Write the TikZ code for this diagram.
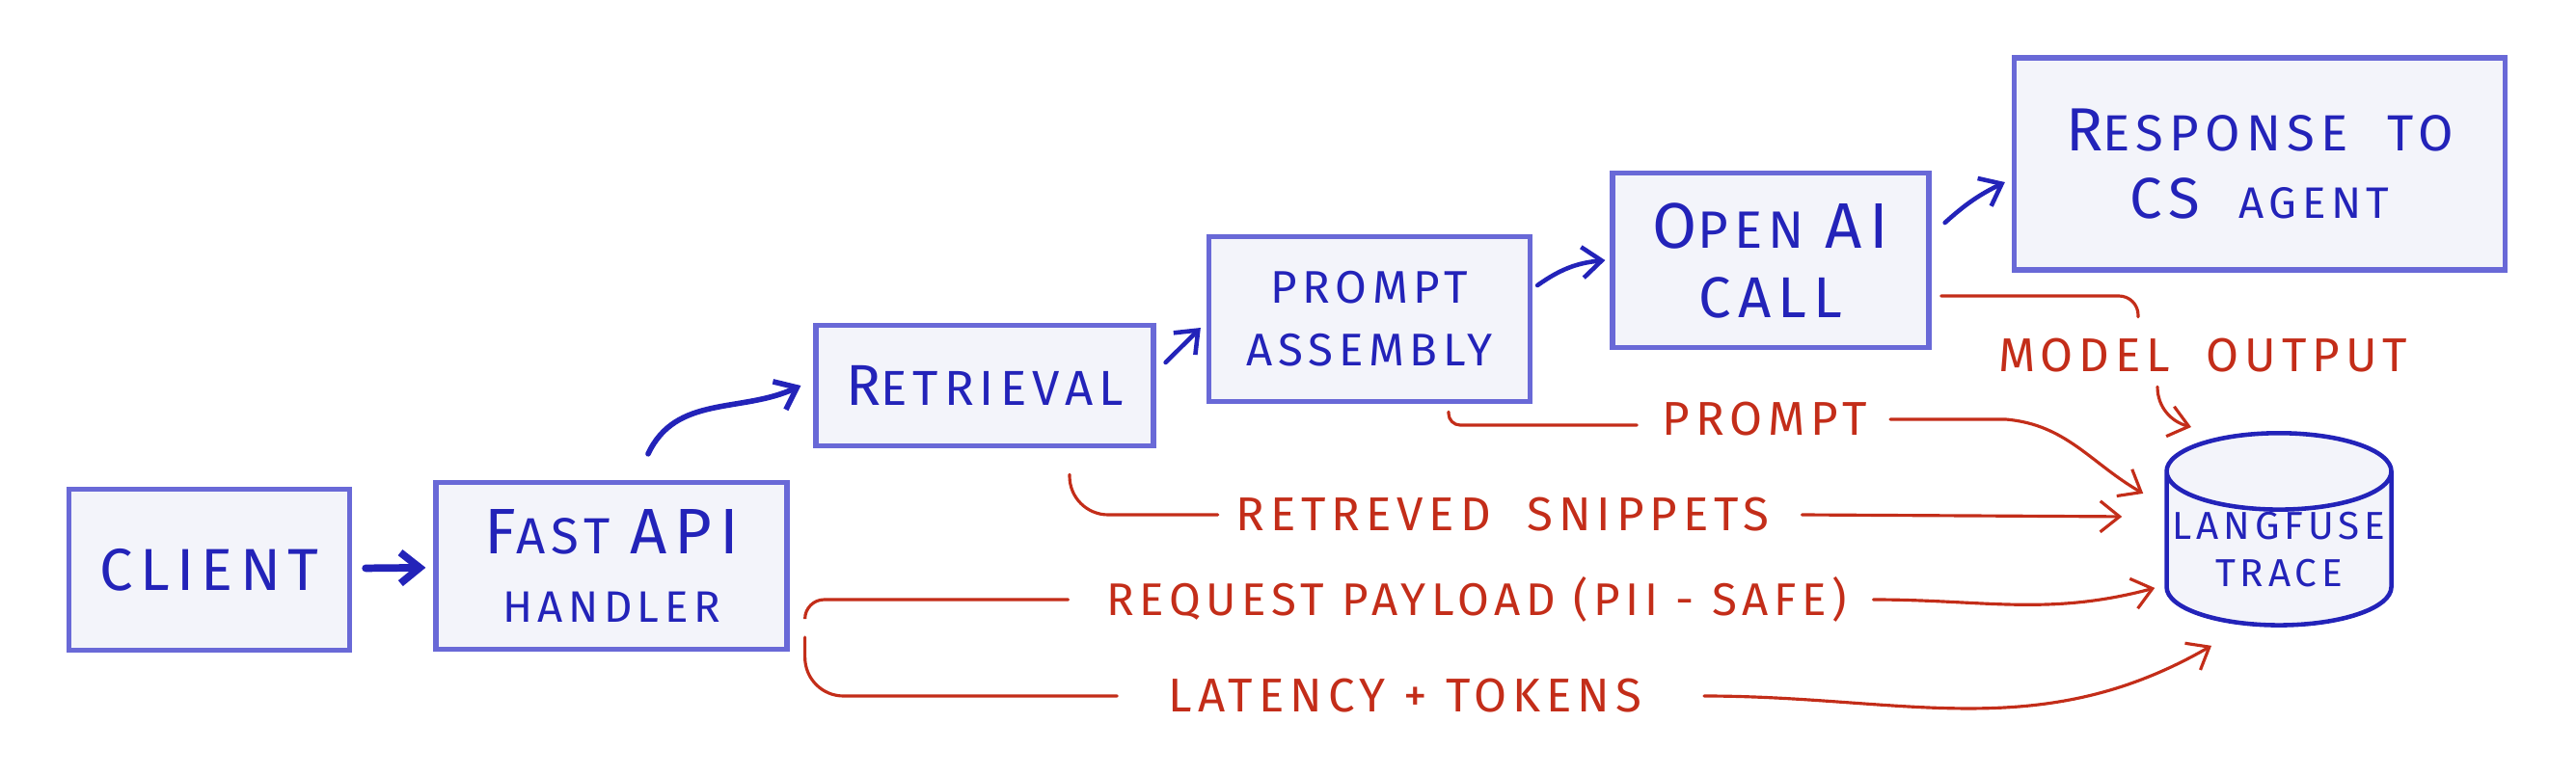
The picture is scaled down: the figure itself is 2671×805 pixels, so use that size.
\documentclass[tikz,border=0pt]{standalone}
\usepackage{fontspec}
\newfontfamily\handfont[LetterSpace=12]{Fira Sans}
\usepackage{tikz}
\usetikzlibrary{arrows.meta,positioning,calc,shapes.geometric}
\definecolor{inkblue}{RGB}{35,35,185}
\definecolor{edgeblue}{RGB}{105,105,215}
\definecolor{paper}{RGB}{243,244,250}
\definecolor{inkred}{RGB}{195,45,25}
\newcommand{\upbig}[2][19]{{\fontsize{#1}{#1}\selectfont #2}}

\begin{document}
\begin{tikzpicture}[
    x=0.1mm, y=-0.1mm,
    stage/.style={rectangle, draw=edgeblue, fill=paper, line width=1.5pt, text=inkblue, align=center, inner sep=0pt, font=\handfont\fontsize{15}{20}\selectfont},
    store/.style={cylinder, shape border rotate=90, aspect=0.36, draw=inkblue, fill=paper, line width=1.3pt, text=inkblue, align=center, inner sep=0pt, minimum width=2.33cm, minimum height=1.88cm, font=\handfont\fontsize{11.5}{14}\selectfont},
    tagtext/.style={text=inkred, inner sep=0pt, font=\handfont\fontsize{14}{14}\selectfont},
    arrow/.style={-{Straight Barb[length=2mm,width=3.2mm]}, draw=inkblue, line width=1.3pt, line cap=round},
    redline/.style={draw=inkred, line width=0.9pt, line cap=round},
    redarrow/.style={redline, -{Straight Barb[length=2mm,width=3.2mm]}}
]
\useasboundingbox (0,0) rectangle (2671,805);

\node[stage, minimum width=2.91cm, minimum height=1.67cm, font=\handfont\fontsize{17.5}{20}\selectfont] (client) at (217,591) {CLIENT};
\node[stage, minimum width=3.64cm, minimum height=1.73cm] (handler) at (634,587) {\upbig{F}AST\ \upbig{API}\\{\fontsize{13}{13}\selectfont HANDLER}};
\node[stage, minimum width=3.5cm, minimum height=1.25cm, font=\handfont\fontsize{14.5}{20}\selectfont] (retrieval) at (1021,400) {\upbig[17]{R}ETRIEVAL};
\node[stage, minimum width=3.33cm, minimum height=1.71cm, font=\handfont\fontsize{13.5}{18.5}\selectfont] (prompt) at (1420,331) {PROMPT\\ASSEMBLY};
\node[stage, minimum width=3.28cm, minimum height=1.81cm, font=\handfont\fontsize{15.5}{20.5}\selectfont] (openai) at (1836,270) {\upbig{O}PEN\ \upbig{AI}\\\upbig[17]{CALL}};
\node[stage, minimum width=5.09cm, minimum height=2.2cm] (response) at (2343,170) {\upbig[18]{R}ESPONSE\ \ TO\\\upbig[17]{CS}\ \ {\fontsize{13}{13}\selectfont AGENT}};
\node[store, anchor=north] (trace) at (2363,447) {LANGFUSE\\TRACE};
\coordinate (tracemid) at ($(trace.north)!0.5!(trace.south)$);

\node[tagtext] (output) at (2284,369) {MODEL\ \ OUTPUT};
\node[tagtext] (prompttag) at (1830,435) {PROMPT};
\node[tagtext] (snippets) at (1558,534) {RETREVED\ \ SNIPPETS};
\node[tagtext, font=\handfont\fontsize{13.5}{14}\selectfont] (payload) at (1531,622) {REQUEST\ PAYLOAD\ (PII - SAFE)};
\node[tagtext] (latency) at (1457,722) {LATENCY + TOKENS};

% request path
\draw[arrow, line width=2.2pt, shorten <=1.4mm, shorten >=0.8mm] (client) -- (handler);
\draw[arrow, line width=1.6pt] ([shift={(3.8mm,2.7mm)}]handler.north) to[out=65,in=205] ([xshift=-1.3mm]retrieval.west);
\draw[arrow] ([shift={(1mm,2.4mm)}]retrieval.east) -- ([shift={(-0.6mm,-0.9mm)}]prompt.west);
\draw[arrow] ([shift={(0.5mm,3.5mm)}]prompt.east) to[bend left=15] ([xshift=-0.5mm]openai.west);
\draw[arrow] ([shift={(1.4mm,3.9mm)}]openai.east) to[bend left=8] ([shift={(-0.7mm,-1.9mm)}]response.west);

% trace feeds
\draw[redline, rounded corners=2mm] ([shift={(1mm,-3.7mm)}]openai.east) -| ([shift={(-6.7mm,2.2mm)}]output.north);
\draw[redarrow] ([shift={(-4.7mm,-1.4mm)}]output.south) to[out=-90,in=165] ([shift={(-9.1mm,0.4mm)}]trace.north);
\draw[redline, rounded corners=1.2mm] ([shift={(8.2mm,-0.8mm)}]prompt.south) |- ([shift={(-2.6mm,-0.6mm)}]prompttag.west);
\draw[redarrow] ([xshift=2.3mm]prompttag.east) -- ++(12mm,0) to[out=-5,in=150] ([shift={(-2.2mm,3.7mm)}]trace.west |- tracemid);
\draw[redline, rounded corners=4mm] ([shift={(8.8mm,-2.7mm)}]retrieval.south) |- ([xshift=-1.8mm]snippets.west);
\draw[redarrow] ([xshift=3.3mm]snippets.east) -- ([shift={(-4.4mm,1.3mm)}]trace.west |- tracemid);
\draw[redline, rounded corners=2mm] ([shift={(1.6mm,-5.4mm)}]handler.east) |- ([xshift=-3.9mm]payload.west);
\draw[redarrow] ([xshift=2.7mm]payload.east) to[out=0,in=195] ([shift={(-1mm,-6.1mm)}]trace.west |- tracemid);
\draw[redline, rounded corners=4mm] ([shift={(1.6mm,-7.4mm)}]handler.east) |- ([xshift=-5.3mm]latency.west);
\draw[redarrow] ([xshift=6.4mm]latency.east) to[out=0,in=210] ([shift={(-7mm,-1.9mm)}]trace.south);
\end{tikzpicture}
\end{document}
